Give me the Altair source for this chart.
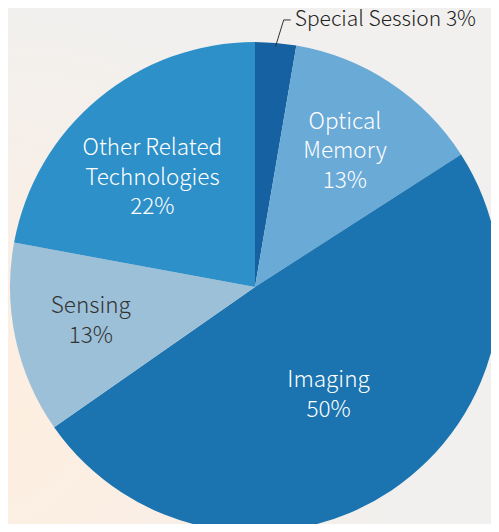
import altair as alt
import pandas as pd

categories = ["Special Session", "Optical Memory", "Imaging", "Sensing", "Other Related Technologies"]
values = [2.7, 13.2, 49.4, 12.6, 22.1]
labels = ["Special Session 3%", "Optical\nMemory\n13%", "Imaging\n50%", "Sensing\n13%", "Other Related\nTechnologies\n22%"]
colors = ["#1661a1", "#6aaad7", "#1b74b0", "#9dc0d9", "#2e90c9"]

W, H = 483, 516
CX, CY = 247, 279
R = 245
FONT = "Noto Sans CJK JP"
FS = 22.5
FW = 300
LH = 29.5

df = pd.DataFrame({"category": categories, "value": values, "label": labels, "idx": list(range(len(categories)))})

bg = alt.Chart(pd.DataFrame({"z": [0]})).mark_rect(
    color=alt.RadialGradient(
        gradient="radial", x1=0.0, y1=0.8, r1=0.0, x2=0.0, y2=0.8, r2=0.8,
        stops=[alt.GradientStop(offset=0, color="#fdeedf"),
               alt.GradientStop(offset=0.45, color="#faefe6"),
               alt.GradientStop(offset=1, color="#f1f0ee")]
    )
).encode(x=alt.value(0), x2=alt.value(W), y=alt.value(0), y2=alt.value(H))

theta = alt.Theta("value:Q", stack=True)
order = alt.Order("idx:Q")

pie = alt.Chart(df).mark_arc(radius=R, x=CX, y=CY).encode(
    theta=theta,
    order=order,
    color=alt.Color("category:N", scale=alt.Scale(domain=categories, range=colors), legend=None),
)

# (category, radius, colour, lines, dx, dy)
label_specs = [
    ("Optical Memory", 163, "white", 3, 0, 1.5),
    ("Imaging", 132, "white", 2, 0, 0),
    ("Sensing", 168, "#333333", 2, 0, 0),
    ("Other Related Technologies", 151, "white", 3, -6, 8.5),
]
text_layers = []
for cat, r, c, n, ddx, ddy in label_specs:
    text_layers.append(
        alt.Chart(df).mark_text(radius=r, x=CX, y=CY, dx=ddx, dy=-(n - 1) * LH / 2 - 1.5 + ddy,
                                font=FONT, fontSize=FS, fontWeight=FW,
                                lineHeight=LH, lineBreak="\n", color=c,
                                align="center", baseline="middle").encode(
            theta=theta,
            order=order,
            text=alt.condition(f"datum.category == '{cat}'", alt.Text("label:N"), alt.value("")),
        )
    )

special = alt.Chart(df).transform_joinaggregate(total="sum(value)").transform_window(
    cum="sum(value)", sort=[alt.SortField("idx")], frame=[None, 0]
).transform_calculate(
    mid="2*PI*(datum.cum - datum.value/2)/datum.total"
).transform_filter("datum.category == 'Special Session'").transform_calculate(
    xa=f"{CX} + 241*sin(datum.mid)",
    ya=f"{CY} - 241*cos(datum.mid)",
    xb=f"{CX} + 268*sin(datum.mid) + 6",
    yb=f"{CY} - 268*cos(datum.mid)",
    xc=f"{CX} + 268*sin(datum.mid) + 13",
    xt=f"{CX} + 268*sin(datum.mid) + 17",
)

lead1 = special.mark_rule(color="#333333", strokeWidth=1).encode(
    x=alt.X("xa:Q", scale=None, axis=None), y=alt.Y("ya:Q", scale=None, axis=None),
    x2="xb:Q", y2="yb:Q")
lead2 = special.mark_rule(color="#333333", strokeWidth=1).encode(
    x=alt.X("xb:Q", scale=None, axis=None), y=alt.Y("yb:Q", scale=None, axis=None),
    x2="xc:Q", y2="yb:Q")
sp_text = special.mark_text(font=FONT, fontSize=21, fontWeight=FW, color="#222222",
                            align="left", baseline="middle", dy=0.5).encode(
    x=alt.X("xt:Q", scale=None, axis=None), y=alt.Y("yb:Q", scale=None, axis=None), text="label:N")

chart = alt.layer(bg, pie, *text_layers, lead1, lead2, sp_text).properties(
    width=W, height=H, autosize=alt.AutoSizeParams(type="none"), padding=0,
    background="#f3f3f1",
).configure_view(stroke=None)

chart.save("out.html", embed_options={"renderer": "svg", "actions": False})
